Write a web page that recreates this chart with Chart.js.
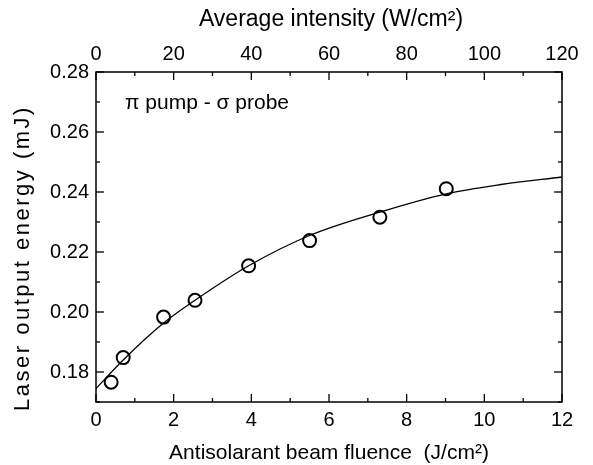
<!DOCTYPE html>
<html>
<head>
<meta charset="utf-8">
<script src="https://cdn.jsdelivr.net/npm/chart.js@4/dist/chart.umd.min.js"></script>
<style>
  html, body { margin: 0; padding: 0; background: #fff; }
  #wrap { width: 593px; height: 465px; }
</style>
</head>
<body>
<div id="wrap"><canvas id="chart"></canvas></div>
<script>
// measured points (open circles)
const fluence = [0.39, 0.70, 1.74, 2.55, 3.93, 5.50, 7.31, 9.02];
const energy = [0.1766, 0.1848, 0.1983, 0.2039, 0.2154, 0.2238, 0.2316, 0.2411];

// fitted curve
const fitFluence = [0, 0.70, 1.74, 2.55, 3.93, 5.50, 7.31, 9.02, 10.43, 12];
const fitEnergy = [0.1745, 0.1840, 0.1963, 0.2039, 0.2154, 0.2255, 0.2333, 0.2394, 0.2425, 0.2450];

const xTitle = 'Antisolarant beam fluence  (J/cm\u00B2)';
const x2Title = 'Average intensity (W/cm\u00B2)';
const yTitle = 'Laser output energy (mJ)';
const note = '\u03C0 pump - \u03C3 probe';

const FONT = '"Liberation Sans", Arial, Helvetica, sans-serif';

const toXY = (xs, ys) => xs.map((x, i) => ({ x, y: ys[i] }));

/**
 * Frame, inward ticks and the free text
 */
const frameAndText = {
  id: 'frameAndText',
  afterDraw(chart) {
    const { ctx, chartArea: a, scales } = chart;
    ctx.save();
    ctx.strokeStyle = '#000';
    ctx.lineWidth = 1.5;
    ctx.strokeRect(a.left, a.top, a.right - a.left, a.bottom - a.top);

    ctx.lineWidth = 1.3;
    const seg = (x1, y1, x2, y2) => {
      ctx.beginPath();
      ctx.moveTo(x1, y1);
      ctx.lineTo(x2, y2);
      ctx.stroke();
    };

    scales.x.ticks.forEach(t => {
      const px = scales.x.getPixelForValue(t.value);
      seg(px, a.bottom, px, a.bottom - (t.label ? 8 : 4));
    });
    scales.x2.ticks.forEach(t => {
      const px = scales.x2.getPixelForValue(t.value);
      seg(px, a.top, px, a.top + (t.label ? 8 : 4));
    });
    scales.y.ticks.forEach(t => {
      const py = scales.y.getPixelForValue(t.value);
      const len = t.label ? 8 : 4;
      seg(a.left, py, a.left + len, py);
      seg(a.right, py, a.right - len, py);
    });

    ctx.fillStyle = '#000';
    ctx.textAlign = 'center';
    ctx.textBaseline = 'middle';
    const cx = (a.left + a.right) / 2;
    ctx.font = '23px ' + FONT;
    ctx.fillText(x2Title, cx + 2, 20);
    ctx.font = '21px ' + FONT;
    ctx.fillText(xTitle, cx, 453);

    ctx.textAlign = 'left';
    ctx.fillText(note, 125, 103);

    ctx.translate(23, 258);
    ctx.rotate(-Math.PI / 2);
    ctx.textAlign = 'center';
    ctx.font = '22px ' + FONT;
    ctx.letterSpacing = '2.5px';
    ctx.fillText(yTitle, 0, 0);
    ctx.restore();
  }
};

const tickFont = { family: FONT, size: 20 };

new Chart(document.getElementById('chart'), {
  type: 'scatter',
  data: {
    datasets: [{
      label: 'fit',
      data: toXY(fitFluence, fitEnergy),
      showLine: true,
      cubicInterpolationMode: 'monotone',
      borderColor: '#000',
      borderWidth: 1.3,
      pointRadius: 0,
      xAxisID: 'x',
      yAxisID: 'y'
    }, {
      label: 'data',
      data: toXY(fluence, energy),
      showLine: false,
      pointStyle: 'circle',
      pointRadius: 6.5,
      pointBorderWidth: 2,
      pointBorderColor: '#000',
      pointBackgroundColor: 'rgba(0,0,0,0)',
      xAxisID: 'x',
      yAxisID: 'y'
    }]
  },
  options: {
    responsive: true,
    maintainAspectRatio: false,
    animation: false,
    devicePixelRatio: 1,
    layout: { padding: { left: 0, right: 31, top: 0, bottom: 0 } },
    plugins: {
      legend: { display: false },
      tooltip: { enabled: false }
    },
    scales: {
      x: {
        type: 'linear',
        position: 'bottom',
        min: 0,
        max: 12,
        grid: { display: false, drawTicks: false },
        border: { display: false },
        ticks: {
          stepSize: 1,
          autoSkip: false,
          maxRotation: 0,
          padding: 6,
          color: '#000',
          font: tickFont,
          callback: v => (Math.round(v) % 2 === 0 ? String(Math.round(v)) : '')
        },
        afterFit: s => { s.height = 63; }
      },
      x2: {
        type: 'linear',
        position: 'top',
        min: 0,
        max: 120,
        grid: { display: false, drawTicks: false },
        border: { display: false },
        ticks: {
          stepSize: 10,
          autoSkip: false,
          maxRotation: 0,
          padding: 6,
          color: '#000',
          font: tickFont,
          callback: v => (Math.round(v) % 20 === 0 ? String(Math.round(v)) : '')
        },
        afterFit: s => { s.height = 72; }
      },
      y: {
        type: 'linear',
        position: 'left',
        min: 0.17,
        max: 0.28,
        grid: { display: false, drawTicks: false },
        border: { display: false },
        ticks: {
          stepSize: 0.01,
          autoSkip: false,
          padding: 7,
          color: '#000',
          font: tickFont,
          callback: v => (Math.round(v * 100) % 2 === 0 ? v.toFixed(2) : '')
        },
        afterFit: s => { s.width = 96; }
      }
    }
  },
  plugins: [frameAndText]
});
</script>
</body>
</html>
